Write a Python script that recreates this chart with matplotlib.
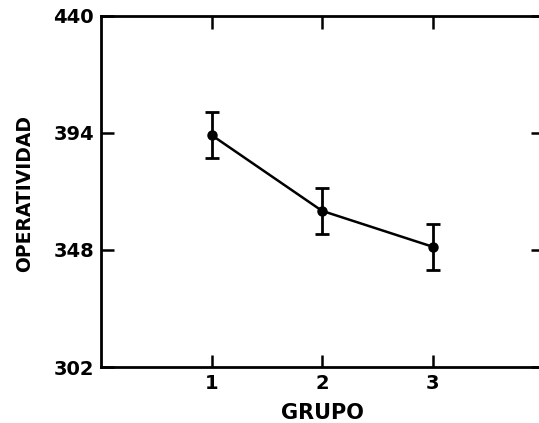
import matplotlib
matplotlib.use("Agg")
import matplotlib.pyplot as plt

grupos = [1, 2, 3]
operatividad = [393.2, 363.4, 349.3]
error = [9.0, 9.0, 9.0]
y_ticks = [302, 348, 394, 440]
x_ticks = [1, 2, 3]

plt.rcParams['font.family'] = ['DejaVu Sans']
plt.rcParams['font.weight'] = 'bold'

fig = plt.figure(figsize=(5.39, 4.23), dpi=100)
ax = fig.add_axes([101/539, 56/423, 442/539, 351/423])

ax.errorbar(grupos, operatividad, yerr=error, color='black', linewidth=1.8,
            elinewidth=2.0, capsize=5, capthick=2.0, marker='o', markersize=6.5)

ax.set_xlim(0, 4)
ax.set_ylim(302, 440)
ax.set_xticks(x_ticks)
ax.set_yticks(y_ticks)
ax.set_xticklabels([str(v) for v in x_ticks], fontsize=14, fontweight='bold')
ax.set_yticklabels([str(v) for v in y_ticks], fontsize=14, fontweight='bold')
ax.tick_params(direction='in', length=9, width=1.8, top=True, right=True, pad=5)
for s in ax.spines.values():
    s.set_linewidth(2.0)

ax.set_xlabel('GRUPO', fontsize=15, fontweight='bold', labelpad=7)
ax.set_ylabel('OPERATIVIDAD', fontsize=13.5, fontweight='bold')
ax.yaxis.set_label_coords(-0.152, 0.494)

fig.savefig('out.png', dpi=100, facecolor='white')
